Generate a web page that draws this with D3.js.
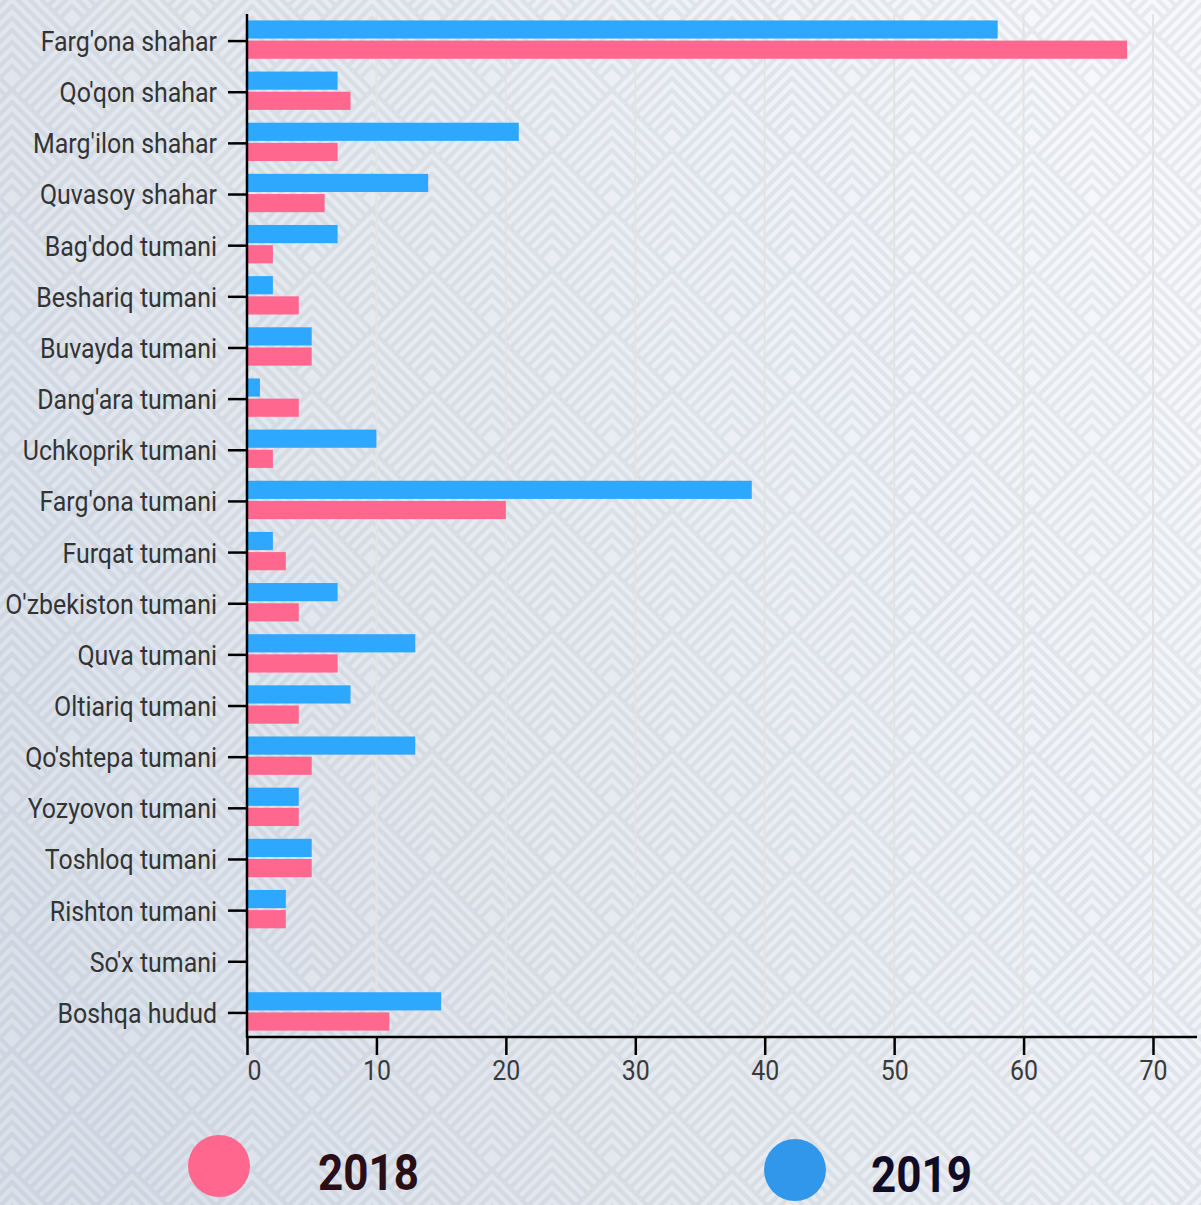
<!DOCTYPE html>
<html><head><meta charset="utf-8">
<script src="https://cdn.jsdelivr.net/npm/d3@7"></script>
<style>html,body{margin:0;padding:0;overflow:hidden;background:#eef1f5}</style>
</head><body><svg id="chart" width="1201" height="1205"></svg>
<script>
const categories = ["Farg'ona shahar","Qo'qon shahar","Marg'ilon shahar","Quvasoy shahar","Bag'dod tumani","Beshariq tumani","Buvayda tumani","Dang'ara tumani","Uchkoprik tumani","Farg'ona tumani","Furqat tumani","O'zbekiston tumani","Quva tumani","Oltiariq tumani","Qo'shtepa tumani","Yozyovon tumani","Toshloq tumani","Rishton tumani","So'x tumani","Boshqa hudud"];
const values2019 = [58,7,21,14,7,2,5,1,10,39,2,7,13,8,13,4,5,3,0,15];
const values2018 = [68,8,7,6,2,4,5,4,2,20,3,4,7,4,5,4,5,3,0,11];
const seriesNames = ["2019","2018"];
const legendNames = ["2018","2019"];
const xTicks = [0,10,20,30,40,50,60,70];
const xMax = 73.4;

const W = 1201, H = 1205;
const svg = d3.select("#chart");
const defs = svg.append("defs");
const grad = defs.append("linearGradient").attr("id","bgGrad")
  .attr("x1","0").attr("y1","0.7").attr("x2","1").attr("y2","0.3");
grad.append("stop").attr("offset","0").attr("stop-color","#dae1eb");
grad.append("stop").attr("offset","0.5").attr("stop-color","#e8ecf2");
grad.append("stop").attr("offset","1").attr("stop-color","#f6f8fb");

// background
const bg = svg.append("g");
bg.append("rect").attr("width",W).attr("height",H).attr("fill","url(#bgGrad)");
const patt = bg.append("g").attr("fill","none")
  .attr("stroke","rgba(105,115,135,0.11)").attr("stroke-width",4.2);
const half = 60;
let pathStr = "";
for (let r = -3; r < 44; r++) {
  const cy = 27 + 60 * r;
  const off = (((r % 2) + 2) % 2) === 0 ? 12 : 72;
  for (let i = -2; i < 13; i++) {
    const cx = off + 120 * i;
    const ay = cy - half;
    for (let d = 3; d <= 104; d += 12) {
      const hw = half - d / 2;
      pathStr += `M${cx - hw},${ay + d + hw}L${cx},${ay + d}L${cx + hw},${ay + d + hw}`;
    }
  }
}
patt.append("path").attr("d", pathStr);

// scales
const margin = {left: 247, right: 4, top: 14, bottom: 168};
const x = d3.scaleLinear().domain([0, xMax]).range([margin.left, W - margin.right]);
const y0 = d3.scaleBand().domain(categories).range([margin.top, H - margin.bottom])
  .paddingInner(0.25).paddingOuter(0.125);
const y1 = d3.scaleBand().domain(seriesNames).range([0, y0.bandwidth()]).paddingInner(0.1);
const color = d3.scaleOrdinal().domain(["2019","2018"]).range(["#2ea7fe","#ff678f"]);
const legendColor = d3.scaleOrdinal().domain(["2019","2018"]).range(["#3197ea","#ff678f"]);
const textColor = d3.scaleOrdinal().domain(["2019","2018"]).range(["#100c26","#2b0d16"]);

const plotBottom = H - margin.bottom;

// gridlines
svg.append("g").selectAll("line").data(xTicks.filter(t => t > 0)).join("line")
  .attr("x1", d => x(d)).attr("x2", d => x(d))
  .attr("y1", margin.top).attr("y2", plotBottom)
  .attr("stroke", "#e3e3e3").attr("stroke-width", 2);

// bars
const rows = categories.map((c, i) => ({cat: c, vals: [{s:"2019", v: values2019[i]}, {s:"2018", v: values2018[i]}]}));
const g = svg.append("g");
g.selectAll("g").data(rows).join("g")
  .attr("transform", d => `translate(0,${y0(d.cat)})`)
  .selectAll("rect").data(d => d.vals).join("rect")
  .attr("x", x(0)).attr("y", d => y1(d.s))
  .attr("width", d => x(d.v) - x(0)).attr("height", y1.bandwidth())
  .attr("fill", d => color(d.s));

const condense = 0.89;
const fontFam = "Roboto, 'Noto Sans', sans-serif";
const fs = 28;

// y axis
const yAxis = svg.append("g").attr("transform", `translate(${x(0)},1.5)`)
  .call(d3.axisLeft(y0).tickSize(19).tickPadding(11));
yAxis.select(".domain").remove();
yAxis.selectAll(".tick line").attr("stroke", "#000").attr("stroke-width", 2.5);
yAxis.selectAll(".tick text").each(function(d) {
  const t = d3.select(this);
  const xx = +t.attr("x");
  t.attr("x", 0).attr("transform", `translate(${xx},1) scale(${condense},1)`)
   .attr("fill", "#333").attr("font-size", fs).attr("font-family", fontFam);
});

// x axis
const xAxis = svg.append("g").attr("transform", `translate(0,${plotBottom})`)
  .call(d3.axisBottom(x).tickValues(xTicks).tickSize(18).tickPadding(5).tickFormat(d3.format("d")));
xAxis.select(".domain").remove();
xAxis.selectAll(".tick line").attr("stroke", "#000").attr("stroke-width", 2.5);
xAxis.selectAll(".tick text").each(function(d) {
  const t = d3.select(this);
  const shift = d === 0 ? 7 : 0;
  t.attr("transform", `translate(${shift},0) scale(${condense},1)`)
   .attr("fill", "#3a3a3a").attr("font-size", fs).attr("font-family", fontFam);
});

// axis lines
svg.append("line").attr("x1", x(0)).attr("x2", x(0)).attr("y1", margin.top).attr("y2", plotBottom + 1)
  .attr("stroke", "#000").attr("stroke-width", 2.5);
svg.append("line").attr("x1", x(0) - 1).attr("x2", W - margin.right).attr("y1", plotBottom).attr("y2", plotBottom)
  .attr("stroke", "#000").attr("stroke-width", 2.5);

// legend
const legendPos = [{cx: 219, cy: 1166, tx: 318, ty: 1190}, {cx: 795, cy: 1170, tx: 871, ty: 1192}];
const leg = svg.append("g").selectAll("g").data(legendNames).join("g");
leg.append("circle").attr("cx", (d, i) => legendPos[i].cx).attr("cy", (d, i) => legendPos[i].cy)
  .attr("r", 31).attr("fill", d => legendColor(d));
leg.append("text").text(d => d)
  .attr("transform", (d, i) => `translate(${legendPos[i].tx},${legendPos[i].ty}) scale(0.88,1)`)
  .attr("font-family", fontFam).attr("font-weight", 700).attr("font-size", 50)
  .attr("fill", d => textColor(d));
</script></body></html>
